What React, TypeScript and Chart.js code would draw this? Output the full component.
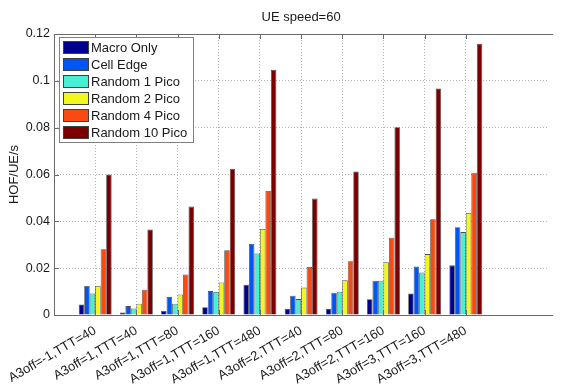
import React, { useEffect, useRef } from "react";
import { Chart, registerables } from "chart.js";

Chart.register(...registerables);

const categories = [
  "A3off=-1,TTT=40",
  "A3off=1,TTT=40",
  "A3off=1,TTT=80",
  "A3off=1,TTT=160",
  "A3off=1,TTT=480",
  "A3off=2,TTT=40",
  "A3off=2,TTT=80",
  "A3off=2,TTT=160",
  "A3off=3,TTT=160",
  "A3off=3,TTT=480",
];

const seriesNames = [
  "Macro Only",
  "Cell Edge",
  "Random 1 Pico",
  "Random 2 Pico",
  "Random 4 Pico",
  "Random 10 Pico",
];

const macroOnly = [0.0045, 0.0011, 0.0017, 0.0033, 0.0129, 0.0027, 0.0027, 0.0067, 0.0092, 0.0212];
const cellEdge = [0.0124, 0.0038, 0.0077, 0.0102, 0.0303, 0.0082, 0.0095, 0.0146, 0.0207, 0.0375];
const random1Pico = [0.0092, 0.0028, 0.0048, 0.0098, 0.0263, 0.0068, 0.0099, 0.0146, 0.0182, 0.0354];
const random2Pico = [0.0124, 0.0048, 0.0088, 0.0139, 0.0367, 0.0117, 0.0148, 0.0225, 0.026, 0.0436];
const random4Pico = [0.0281, 0.0108, 0.0173, 0.0277, 0.053, 0.0205, 0.023, 0.033, 0.0409, 0.0608];
const random10Pico = [0.06, 0.0365, 0.0463, 0.0625, 0.1047, 0.0497, 0.0613, 0.0802, 0.0967, 0.1158];

const yTicks = [0, 0.02, 0.04, 0.06, 0.08, 0.1, 0.12];

const seriesColors = ["#00008F", "#0055F5", "#45F0D5", "#F2F71C", "#FA4A12", "#7D0000"];

const FONT = "'Liberation Sans', Arial, sans-serif";

export default function App() {
  const ref = useRef<HTMLCanvasElement | null>(null);

  useEffect(() => {
    if (!ref.current) return;
    // x positions: 0 = empty left slot, 1..10 categories, 11..12 empty right slots
    const labels = ["", ...categories, "", ""];
    const pad = (arr: number[]) => [null, ...arr, null, null];
    const allSeries = [macroOnly, cellEdge, random1Pico, random2Pico, random4Pico, random10Pico];

    const frame = {
      id: "matlabFrame",
      afterDraw(chart: any) {
        const { ctx, chartArea } = chart;
        const xs = chart.scales.x;
        const ys = chart.scales.y;
        ctx.save();
        ctx.strokeStyle = "#6a6a6a";
        ctx.lineWidth = 1;
        // box
        ctx.beginPath();
        ctx.moveTo(chartArea.left + 0.5, chartArea.bottom + 0.5);
        ctx.lineTo(chartArea.left + 0.5, chartArea.top + 0.5);
        ctx.lineTo(chartArea.right + 5, chartArea.top + 0.5);
        ctx.moveTo(chartArea.left + 0.5, chartArea.bottom + 0.5);
        ctx.lineTo(chartArea.right + 5, chartArea.bottom + 0.5);
        ctx.stroke();
        // inner ticks
        ctx.beginPath();
        yTicks.forEach((v) => {
          const py = Math.round(ys.getPixelForValue(v)) + 0.5;
          ctx.moveTo(chartArea.left, py);
          ctx.lineTo(chartArea.left + 5, py);
        });
        for (let i = 1; i <= categories.length; i++) {
          const px = Math.round(xs.getPixelForValue(i)) + 0.5;
          ctx.moveTo(px, chartArea.top);
          ctx.lineTo(px, chartArea.top + 5);
          ctx.moveTo(px, chartArea.bottom);
          ctx.lineTo(px, chartArea.bottom - 5);
        }
        ctx.stroke();

        // legend
        const lx = 59, ly = 37, lw = 134, lh = 105;
        ctx.fillStyle = "#ffffff";
        ctx.fillRect(lx, ly, lw, lh);
        ctx.strokeStyle = "#808080";
        ctx.strokeRect(lx + 0.5, ly + 0.5, lw, lh);
        ctx.font = "13px " + FONT;
        ctx.textBaseline = "middle";
        ctx.textAlign = "left";
        chart.data.datasets.forEach((ds: any, i: number) => {
          const cy = ly + 10 + i * 17;
          ctx.fillStyle = ds.backgroundColor;
          ctx.fillRect(lx + 4, cy - 6, 25, 12);
          ctx.strokeStyle = "#404040";
          ctx.strokeRect(lx + 4.5, cy - 5.5, 25, 12);
          ctx.fillStyle = "#1a1a1a";
          ctx.fillText(ds.label, lx + 32, cy + 1);
        });
        ctx.restore();
      },
    };

    const chart = new Chart(ref.current, {
      type: "bar",
      data: {
        labels,
        datasets: allSeries.map((s, i) => ({
          label: seriesNames[i],
          data: pad(s),
          backgroundColor: seriesColors[i],
          borderColor: "rgba(20,20,20,0.75)",
          borderWidth: 0.8,
          categoryPercentage: 0.8,
          barPercentage: 1.0,
        })),
      },
      options: {
        animation: false,
        responsive: false,
        layout: { padding: { left: 0, right: 0, top: 0, bottom: 0 } },
        plugins: {
          legend: { display: false },
          tooltip: { enabled: false },
          title: {
            display: true,
            text: "UE speed=60",
            fullSize: false,
            color: "#1a1a1a",
            font: { family: FONT, size: 13, weight: "normal" },
            padding: { top: 10, bottom: 8.4 },
          },
        },
        scales: {
          x: {
            type: "category",
            offset: false,
            grid: {
              offset: false,
              drawTicks: false,
              color: (c: any) =>
                c.index >= 1 && c.index <= categories.length ? "#b5b5b5" : "rgba(0,0,0,0)",
            } as any,
            border: { display: false, dash: [1, 2] },
            ticks: {
              autoSkip: false,
              minRotation: 30,
              maxRotation: 30,
              padding: 8,
              color: "#1a1a1a",
              font: { family: FONT, size: 13 },
            },
            afterFit: (s: any) => {
              s.height = 70;
            },
          },
          y: {
            min: 0,
            max: 0.12,
            afterBuildTicks: (s: any) => {
              s.ticks = yTicks.map((v) => ({ value: v }));
            },
            grid: {
              drawTicks: false,
              color: (c: any) =>
                c.tick && c.tick.value > 0 && c.tick.value < 0.12 ? "#b5b5b5" : "rgba(0,0,0,0)",
            },
            border: { display: false, dash: [1, 2] },
            ticks: {
              padding: 4,
              color: "#1a1a1a",
              font: { family: FONT, size: 12.5 },
              callback: (v: any) => String(Number(Number(v).toFixed(2))),
            },
            title: {
              display: true,
              text: "HOF/UE/s",
              color: "#1a1a1a",
              font: { family: FONT, size: 13 },
              padding: { top: 7, bottom: 0 },
            },
            afterFit: (s: any) => {
              s.width = 54;
            },
          },
        },
      },
      plugins: [frame],
    } as any);

    return () => chart.destroy();
  }, []);

  return (
    <div
      style={{
        position: "absolute",
        left: 0,
        top: 0,
        width: 562,
        height: 385,
        overflow: "hidden",
        background: "#ffffff",
      }}
    >
      <canvas ref={ref} width={564} height={385} style={{ display: "block", width: 564, height: 385 }} />
    </div>
  );
}
